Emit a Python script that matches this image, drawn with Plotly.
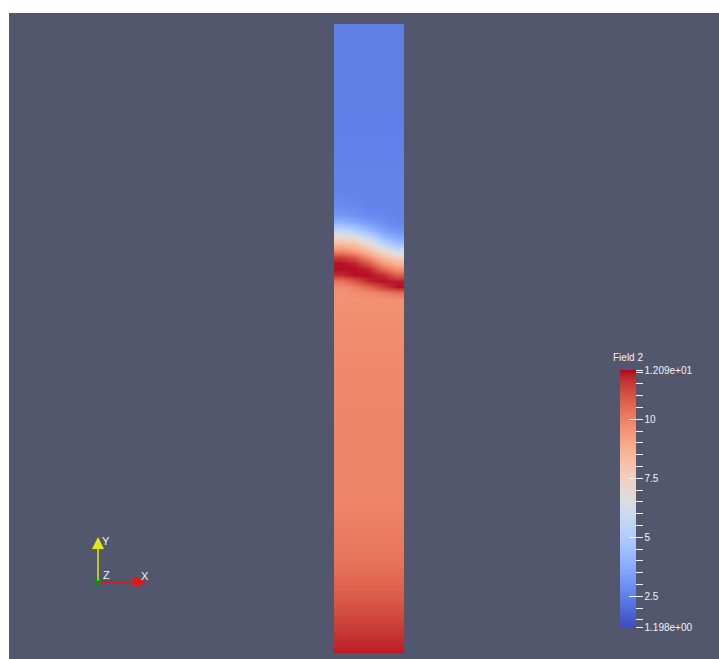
import plotly.graph_objects as go

# ---------------- data ----------------
# Field 2 sampled on the column (width 1, height 8.986); rows listed top -> bottom
col_x = [0.1, 0.3, 0.5, 0.7, 0.9]
row_h = [8.99, 7.61, 6.61, 6.40, 6.26, 6.16, 6.04, 5.94, 5.84, 5.74, 5.66, 5.57,
         5.49, 5.40, 5.31, 5.23, 5.14, 5.04, 4.19, 3.19, 2.19, 1.33, 0.76, 0.33, 0.0]
field2 = [
    [2.5, 2.5, 2.5, 2.5, 2.5],
    [2.5, 2.5, 2.5, 2.5, 2.5],
    [2.6, 2.6, 2.6, 2.6, 2.6],
    [2.8, 2.7, 2.6, 2.6, 2.6],
    [3.2, 3.0, 2.8, 2.7, 2.6],
    [4.0, 3.7, 3.2, 2.9, 2.7],
    [5.6, 5.1, 4.2, 3.4, 3.0],
    [7.1, 6.6, 5.6, 4.3, 3.6],
    [8.5, 8.0, 7.0, 5.6, 4.6],
    [9.9, 9.3, 8.4, 7.0, 6.0],
    [11.4, 10.8, 9.6, 8.3, 7.4],
    [12.0, 11.8, 10.8, 9.4, 8.6],
    [12.0, 12.0, 11.8, 10.6, 9.6],
    [11.7, 12.0, 12.0, 11.7, 10.8],
    [10.3, 11.0, 11.8, 12.0, 11.9],
    [9.7, 10.0, 10.6, 11.4, 12.0],
    [9.6, 9.7, 9.8, 10.0, 10.4],
    [9.6, 9.6, 9.6, 9.6, 9.6],
    [9.8, 9.8, 9.8, 9.8, 9.8],
    [9.9, 9.9, 9.9, 9.9, 9.9],
    [9.9, 9.9, 9.9, 9.9, 9.9],
    [10.3, 10.3, 10.3, 10.3, 10.3],
    [10.9, 10.9, 10.9, 10.9, 10.9],
    [11.5, 11.5, 11.5, 11.5, 11.5],
    [11.9, 11.9, 11.9, 11.9, 11.9],
]
field_min = 1.198
field_max = 12.09
tick_vals = [1.198, 1.5, 2.0, 2.5, 3.0, 3.5, 4.0, 4.5, 5.0, 5.5, 6.0, 6.5, 7.0, 7.5,
             8.0, 8.5, 9.0, 9.5, 10.0, 10.5, 11.0, 11.5, 12.0, 12.09]
tick_labels = {1.198: "1.198e+00", 2.5: "2.5", 5.0: "5", 7.5: "7.5", 10.0: "10",
               12.09: "1.209e+01"}
major_ticks = [2.5, 5.0, 7.5, 10.0]

# ParaView "Cool to Warm"
cool_warm = [
    (0.0, (59, 76, 192)), (0.03125, (68, 90, 204)), (0.0625, (77, 104, 215)),
    (0.09375, (87, 117, 225)), (0.125, (98, 130, 234)), (0.15625, (108, 142, 241)),
    (0.1875, (119, 154, 247)), (0.21875, (130, 165, 251)), (0.25, (141, 176, 254)),
    (0.28125, (152, 185, 255)), (0.3125, (163, 194, 255)), (0.34375, (174, 201, 253)),
    (0.375, (184, 208, 249)), (0.40625, (194, 213, 244)), (0.4375, (204, 217, 238)),
    (0.46875, (213, 219, 230)), (0.5, (221, 221, 221)), (0.53125, (229, 216, 209)),
    (0.5625, (236, 211, 197)), (0.59375, (241, 204, 185)), (0.625, (245, 196, 173)),
    (0.65625, (247, 187, 160)), (0.6875, (247, 177, 148)), (0.71875, (247, 166, 135)),
    (0.75, (244, 154, 123)), (0.78125, (241, 141, 111)), (0.8125, (236, 127, 99)),
    (0.84375, (229, 112, 88)), (0.875, (222, 96, 77)), (0.90625, (213, 80, 66)),
    (0.9375, (203, 62, 56)), (0.96875, (192, 40, 47)), (1.0, (180, 4, 38)),
]
colorscale = [[p, "rgb(%d,%d,%d)" % c] for p, c in cool_warm]

# ---------------- layout geometry ----------------
W, H = 719, 659
L, R, T, B = 334, 719 - 404, 24, 659 - 653
PW, PH = W - L - R, H - T - B
BG = "rgb(82,87,110)"
TXT = "#f2f2f2"
FONT = "Liberation Sans"


def pxx(x):
    return (x - L) / PW


def pxy(y):
    return (H - B - y) / PH


def cbar(**kw):
    base = dict(
        xref="container", yref="paper",
        x=620 / W, xanchor="left", y=pxy(627), yanchor="bottom",
        len=257, lenmode="pixels", thickness=16, thicknessmode="pixels",
        xpad=0, ypad=0, outlinewidth=0,
    )
    base.update(kw)
    return base


fig = go.Figure()

fig.add_trace(go.Heatmap(
    x=col_x, y=row_h[::-1], z=field2[::-1],
    zmin=field_min, zmax=field_max, colorscale=colorscale, zsmooth="best",
    hoverinfo="skip",
    colorbar=cbar(
        tickmode="array", tickvals=tick_vals,
        ticktext=[tick_labels.get(v, "") for v in tick_vals],
        ticks="outside", ticklen=7, tickwidth=1, tickcolor=TXT,
        tickfont=dict(family=FONT, size=10, color=TXT),
    ),
))

# second colour bar only to draw the long (inside) part of the major ticks
fig.add_trace(go.Scatter(
    x=[-10], y=[-10], mode="markers", hoverinfo="skip", showlegend=False,
    marker=dict(color=[5.0], cmin=field_min, cmax=field_max, colorscale=colorscale,
                showscale=True,
                colorbar=cbar(
                    tickmode="array", tickvals=major_ticks,
                    ticks="inside", ticklen=7, tickwidth=1, tickcolor=TXT,
                    showticklabels=False,
                )),
))

annotations = [
    dict(x=pxx(611), y=pxy(357), xref="paper", yref="paper", text="Field 2",
         showarrow=False, xanchor="left", yanchor="middle",
         font=dict(family=FONT, size=10, color=TXT)),
    # orientation triad
    dict(x=pxx(146), y=pxy(582), xref="paper", yref="paper", text="",
         showarrow=True, ax=-48, ay=0, arrowcolor="rgb(230,20,20)",
         arrowwidth=1.5, arrowhead=2, arrowsize=1.6),
    dict(x=pxx(98), y=pxy(537), xref="paper", yref="paper", text="",
         showarrow=True, ax=0, ay=45, arrowcolor="rgb(230,230,20)",
         arrowwidth=1.5, arrowhead=2, arrowsize=1.6),
    dict(x=pxx(100), y=pxy(541), xref="paper", yref="paper", text="Y",
         showarrow=False, xanchor="left", yanchor="middle",
         font=dict(family=FONT, size=11, color=TXT)),
    dict(x=pxx(101), y=pxy(575), xref="paper", yref="paper", text="Z",
         showarrow=False, xanchor="left", yanchor="middle",
         font=dict(family=FONT, size=11, color=TXT)),
    dict(x=pxx(139), y=pxy(576), xref="paper", yref="paper", text="X",
         showarrow=False, xanchor="left", yanchor="middle",
         font=dict(family=FONT, size=11, color=TXT)),
]

shapes = [
    # white frame strips (top and left)
    dict(type="rect", xref="paper", yref="paper", x0=pxx(-5), x1=pxx(W + 5),
         y0=pxy(13), y1=pxy(-5), fillcolor="white", line=dict(width=0), layer="above"),
    dict(type="rect", xref="paper", yref="paper", x0=pxx(-5), x1=pxx(9),
         y0=pxy(H + 5), y1=pxy(-5), fillcolor="white", line=dict(width=0), layer="above"),
    # triad origin
    dict(type="circle", xref="paper", yref="paper", xsizemode="pixel", ysizemode="pixel",
         xanchor=pxx(97.5), yanchor=pxy(582), x0=-3.5, x1=3.5, y0=-3.5, y1=3.5,
         fillcolor="rgb(20,140,20)", line=dict(width=0), layer="above"),
]

fig.update_layout(
    width=W, height=H, autosize=False,
    margin=dict(l=L, r=R, t=T, b=B, pad=0, autoexpand=False),
    paper_bgcolor=BG, plot_bgcolor=BG,
    font=dict(family=FONT, color=TXT),
    xaxis=dict(range=[0, 1], visible=False, fixedrange=True),
    yaxis=dict(range=[0, PH / 70], visible=False, fixedrange=True),
    annotations=annotations, shapes=shapes, showlegend=False,
)

fig.write_html(
    "out.html",
    config={"displayModeBar": False, "staticPlot": True},
    post_script="document.body.style.margin='0';document.body.style.overflow='hidden';",
)
